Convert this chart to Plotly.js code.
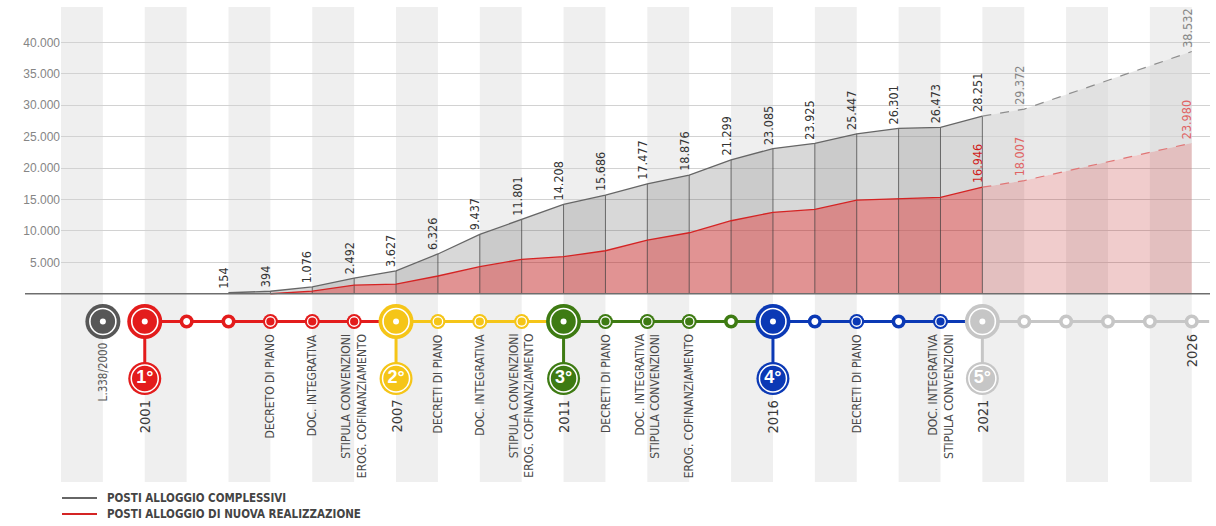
<!DOCTYPE html>
<html><head><meta charset="utf-8">
<script src="https://cdn.plot.ly/plotly-3.0.1.min.js"></script>
<style>html,body{margin:0;padding:0;background:#fff;} #chart{width:1216px;height:526px;}</style>
</head><body><div id="chart"></div>
<script>
// ---------- data ----------
const years = [2003,2004,2005,2006,2007,2008,2009,2010,2011,2012,2013,2014,2015,2016,2017,2018,2019,2020,2021];
const totalPlaces = [154,394,1076,2492,3627,6326,9437,11801,14208,15686,17477,18876,21299,23085,23925,25447,26301,26473,28251];
const newYears = [2004,2005,2006,2007,2008,2009,2010,2011,2012,2013,2014,2015,2016,2017,2018,2019,2020,2021];
const newPlaces = [0,430,1380,1540,2820,4300,5470,5890,6840,8540,9700,11610,12950,13420,14900,15070,15330,16946];
const projYears = [2021,2022,2026];
const projTotal = [28251,29372,38532];
const projNew = [16946,18007,23980];
const yTicks = [5000,10000,15000,20000,25000,30000,35000,40000];
const lawYear = 2000;
const lawLabel = 'L.338/2000';
const phaseYears = [2001,2007,2011,2016,2021];
const phaseBadges = ['1°','2°','3°','4°','5°'];
const milestoneYears = [2002,2003,2004,2005,2006,2008,2009,2010,2012,2013,2014,2015,2017,2018,2019,2020,2022,2023,2024,2025,2026];
const milestoneKinds = ['o','o','f','f','f','f','f','f','f','f','f','o','o','f','o','f','o','o','o','o','o'];
const milestoneLabels = ['','','DECRETO DI PIANO','DOC. INTEGRATIVA','STIPULA CONVENZIONI<br>EROG. COFINANZIAMENTO',
  'DECRETI DI PIANO','DOC. INTEGRATIVA','STIPULA CONVENZIONI<br>EROG. COFINANZIAMENTO',
  'DECRETI DI PIANO','DOC. INTEGRATIVA<br>STIPULA CONVENZIONI','EROG. COFINANZIAMENTO','',
  '','DECRETI DI PIANO','','DOC. INTEGRATIVA<br>STIPULA CONVENZIONI',
  '','','','','2026'];
const legendNames = ['POSTI ALLOGGIO COMPLESSIVI','POSTI ALLOGGIO DI NUOVA REALIZZAZIONE'];

// ---------- styles ----------
const phaseColors = ['#e31c1c','#f5c518','#3e7b13','#0b39b5','#c6c6c6'];
const lawColor = '#575757';
const lineColors = ['#666666','#d42424'];
const NARROW = '"Liberation Sans Narrow", "DejaVu Sans Condensed", "Arial Narrow", sans-serif';
const fmt = v => String(v).replace(/\B(?=(\d{3})+(?!\d))/g, '.');
const ROW = 321.5, BADGE = 378.5, LABEL_TOP = 332, YEAR_TOP = 398, LAW_TOP = 340;
const PW = 1149, PH = 475;
const X0 = 1999, X1 = 1999 + PW/41.88;

function colorFor(yr){ let c = phaseColors[0]; phaseYears.forEach((p,i)=>{ if (yr >= p) c = phaseColors[i]; }); return c; }

const traces = [];
// area fills
traces.push({x:newYears, y:newPlaces, type:'scatter', mode:'lines', fill:'tozeroy', fillcolor:'rgba(186,8,8,0.44)', line:{width:0}, hoverinfo:'skip', showlegend:false});
traces.push({x:years, y:totalPlaces, type:'scatter', mode:'lines', fill:'tonexty', fillcolor:'rgba(78,78,78,0.22)', line:{width:0}, hoverinfo:'skip', showlegend:false});
traces.push({x:projYears, y:projNew, type:'scatter', mode:'lines', fill:'tozeroy', fillcolor:'rgba(186,20,20,0.215)', line:{width:0}, hoverinfo:'skip', showlegend:false});
traces.push({x:projYears, y:projTotal, type:'scatter', mode:'lines', fill:'tonexty', fillcolor:'rgba(212,212,212,0.5)', line:{width:0}, hoverinfo:'skip', showlegend:false});
// column separators
const cx = [], cy = [];
years.forEach((yr,i)=>{ cx.push(yr,yr,null); cy.push(0,totalPlaces[i],null); });
traces.push({x:cx, y:cy, type:'scatter', mode:'lines', line:{color:'rgba(60,60,60,0.7)', width:1}, hoverinfo:'skip', showlegend:false});
// lines
traces.push({x:years, y:totalPlaces, type:'scatter', mode:'lines', name:legendNames[0], line:{color:lineColors[0], width:1.3}, hoverinfo:'skip', showlegend:false});
traces.push({x:newYears, y:newPlaces, type:'scatter', mode:'lines', name:legendNames[1], line:{color:lineColors[1], width:1.3}, hoverinfo:'skip', showlegend:false});
traces.push({x:projYears, y:projTotal, type:'scatter', mode:'lines', line:{color:'#8e8e8e', width:1.2, dash:'dash'}, hoverinfo:'skip', showlegend:false});
traces.push({x:projYears, y:projNew, type:'scatter', mode:'lines', line:{color:'#e07676', width:1.2, dash:'dash'}, hoverinfo:'skip', showlegend:false});

// timeline connectors
phaseYears.forEach((p,i)=>{
  const end = i < phaseYears.length-1 ? phaseYears[i+1] : X1 - 0.02;
  traces.push({x:[p,end], y:[ROW,ROW], yaxis:'y2', type:'scatter', mode:'lines', line:{color:phaseColors[i], width:3}, hoverinfo:'skip', showlegend:false});
  traces.push({x:[p,p], y:[ROW,BADGE], yaxis:'y2', type:'scatter', mode:'lines', line:{color:phaseColors[i], width:3}, hoverinfo:'skip', showlegend:false});
});
// milestones
const hollowX = [], hollowC = [], filledX = [], filledC = [];
milestoneYears.forEach((yr,i)=>{
  if (milestoneKinds[i] === 'o') { hollowX.push(yr); hollowC.push(colorFor(yr)); }
  else { filledX.push(yr); filledC.push(colorFor(yr)); }
});
traces.push({x:hollowX, y:hollowX.map(()=>ROW), yaxis:'y2', type:'scatter', mode:'markers', marker:{size:10.5, color:'#ffffff', line:{color:hollowC, width:3.6}}, hoverinfo:'skip', showlegend:false});
traces.push({x:filledX, y:filledX.map(()=>ROW), yaxis:'y2', type:'scatter', mode:'markers', marker:{size:15, color:filledC, line:{width:0}}, hoverinfo:'skip', showlegend:false});
traces.push({x:filledX, y:filledX.map(()=>ROW), yaxis:'y2', type:'scatter', mode:'markers', marker:{size:9.5, color:filledC, line:{color:'#ffffff', width:1.3}}, hoverinfo:'skip', showlegend:false});
// big circles (law + phases)
const bigX = [lawYear].concat(phaseYears), bigC = [lawColor].concat(phaseColors);
traces.push({x:bigX, y:bigX.map(()=>ROW), yaxis:'y2', type:'scatter', mode:'markers', marker:{size:35, color:bigC, line:{width:0}}, hoverinfo:'skip', showlegend:false});
traces.push({x:bigX, y:bigX.map(()=>ROW), yaxis:'y2', type:'scatter', mode:'markers', marker:{size:26, color:bigC, line:{color:'#ffffff', width:1.6}}, hoverinfo:'skip', showlegend:false});
traces.push({x:bigX, y:bigX.map(()=>ROW), yaxis:'y2', type:'scatter', mode:'markers', marker:{size:6, color:'#ffffff', line:{width:0}}, hoverinfo:'skip', showlegend:false});
// badges
traces.push({x:phaseYears, y:phaseYears.map(()=>BADGE), yaxis:'y2', type:'scatter', mode:'markers', marker:{size:33, color:phaseColors, line:{width:0}}, hoverinfo:'skip', showlegend:false});
traces.push({x:phaseYears, y:phaseYears.map(()=>BADGE), yaxis:'y2', type:'scatter', mode:'markers+text', marker:{size:27, color:phaseColors, line:{color:'#ffffff', width:1.5}},
  text:phaseBadges, textposition:'middle center', textfont:{family:'"Liberation Sans", Arial, sans-serif', size:18, color:'#ffffff', weight:700}, hoverinfo:'skip', showlegend:false});

// ---------- annotations ----------
const ann = [];
function valLabel(x, y, color){
  ann.push({x:x, y:y, xref:'x', yref:'y', text:fmt(y), showarrow:false, textangle:-90, xanchor:'center', yanchor:'bottom',
    xshift:-5, yshift:2, font:{family:NARROW, size:12.5, color:color}});
}
years.forEach((yr,i)=> valLabel(yr, totalPlaces[i], '#333333'));
projYears.forEach((yr,i)=>{ if (yr !== years[years.length-1]) valLabel(yr, projTotal[i], '#858585'); });
projYears.forEach((yr,i)=> valLabel(yr, projNew[i], i === 0 ? '#d01c1c' : '#e06464'));

milestoneYears.forEach((yr,i)=>{
  const t = milestoneLabels[i];
  if (!t) return;
  const isYear = /^\d{4}$/.test(t);
  ann.push({x:yr, y:LABEL_TOP, xref:'x', yref:'y2', text:t, showarrow:false, textangle:-90, xanchor:'center', yanchor:'top', align:'right',
    font:{family:NARROW, size:isYear ? 14.5 : 12, color:isYear ? '#3a3a3a' : '#4a4a4a'}});
});
phaseYears.forEach(p=>{
  ann.push({x:p, y:YEAR_TOP, xref:'x', yref:'y2', text:String(p), showarrow:false, textangle:-90, xanchor:'center', yanchor:'top',
    font:{family:NARROW, size:14.5, color:'#3a3a3a'}});
});
ann.push({x:lawYear, y:LAW_TOP, xref:'x', yref:'y2', text:lawLabel, showarrow:false, textangle:-90, xanchor:'center', yanchor:'top',
  font:{family:NARROW, size:11.5, color:'#5a5a5a'}});

// ---------- shapes ----------
const shapes = [];
for (let s = 1999; s < 2026; s += 2) {
  shapes.push({type:'rect', xref:'x', yref:'paper', x0:s, x1:s+1, y0:0, y1:1, fillcolor:'#efefef', line:{width:0}, layer:'below'});
}
shapes.push({type:'line', xref:'paper', yref:'y', x0:-36/PW, x1:1, y0:0, y1:0, line:{color:'#6e6e6e', width:1.6}, layer:'above'});

// legend (drawn below the plot)
legendNames.forEach((name,i)=>{
  const yy = (482 - (498 + 16*i)) / PH;
  shapes.push({type:'line', xref:'paper', yref:'paper', x0:1/PW, x1:36/PW, y0:yy, y1:yy, line:{color:lineColors[i], width:1.8}});
  ann.push({x:44/PW, y:yy, xref:'paper', yref:'paper', text:name, showarrow:false, xanchor:'left', yanchor:'middle',
    font:{family:NARROW, size:11.5, color:'#444444', weight:700}});
});

const layout = {
  width:1216, height:526,
  margin:{l:61, r:6, t:7, b:44, autoexpand:false},
  paper_bgcolor:'#ffffff', plot_bgcolor:'rgba(0,0,0,0)',
  hovermode:false, showlegend:false,
  xaxis:{range:[X0, X1], visible:false, fixedrange:true},
  yaxis:{range:[-29952, 45616], tickvals:yTicks, ticktext:yTicks.map(fmt), showgrid:true, gridcolor:'#d2d2d2', gridwidth:1,
    zeroline:false, showline:false, ticks:'', fixedrange:true,
    tickfont:{family:'"Liberation Sans", Arial, sans-serif', size:12, color:'#858585'}},
  yaxis2:{range:[482, 7], overlaying:'y', visible:false, fixedrange:true},
  shapes:shapes, annotations:ann
};

Plotly.newPlot('chart', traces, layout, {displayModeBar:false, staticPlot:true});
</script></body></html>
